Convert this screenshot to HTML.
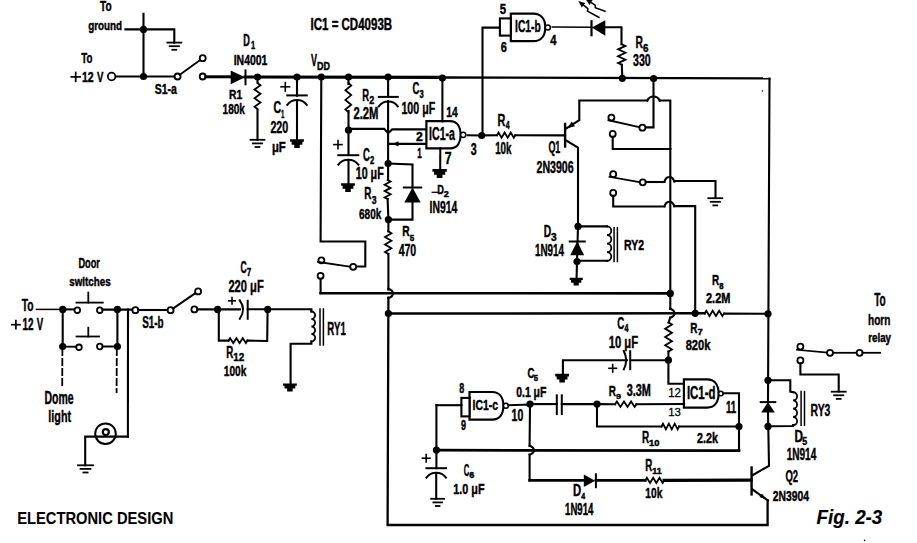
<!DOCTYPE html>
<html><head><meta charset="utf-8"><style>
html,body{margin:0;padding:0;background:#fff;}
svg{display:block;}
text{font-family:"Liberation Sans",sans-serif;fill:#000;stroke:#000;stroke-width:0.45px;}
</style></head><body>
<svg width="917" height="543" viewBox="0 0 917 543">
<g fill="none" stroke="#000" stroke-linecap="square" stroke-linejoin="miter">
<text x="99.99" y="10.6" font-size="14.24" textLength="11.58" lengthAdjust="spacingAndGlyphs" font-weight="bold" font-style="normal">To</text>
<text x="88.2" y="29.8" font-size="13.52" textLength="33.95" lengthAdjust="spacingAndGlyphs" font-weight="bold" font-style="normal">ground</text>
<path d="M143.5 13.8 L143.5 76.5" stroke-width="2.1"/>
<path d="M125.4 29.4 L174.3 29.4 L174.3 42.6" stroke-width="2.1"/>
<path d="M167.3 42.6 L181.3 42.6" stroke-width="1.8"/>
<path d="M169.68 46.2 L178.92 46.2" stroke-width="1.8"/>
<path d="M172.34 49.8 L176.26 49.8" stroke-width="1.8"/>
<circle cx="143.5" cy="29.4" r="3.6" fill="#000" stroke="none"/>
<text x="81.2" y="63.3" font-size="15.26" textLength="11.16" lengthAdjust="spacingAndGlyphs" font-weight="bold" font-style="normal">To</text>
<path d="M71.3 76.9 L80.1 76.9" stroke-width="1.7"/>
<path d="M75.7 72.5 L75.7 81.3" stroke-width="1.7"/>
<text x="81.94" y="82" font-size="15.04" textLength="11.68" lengthAdjust="spacingAndGlyphs" font-weight="bold" font-style="normal">12</text>
<text x="96.93" y="82" font-size="15.55" textLength="6.43" lengthAdjust="spacingAndGlyphs" font-weight="bold" font-style="normal">V</text>
<path d="M115.3 76.5 L174.6 76.5" stroke-width="2.1"/>
<circle cx="111.6" cy="76.5" r="3.8" fill="#fff" stroke-width="1.8"/>
<circle cx="143.5" cy="76.5" r="3.6" fill="#000" stroke="none"/>
<circle cx="177.6" cy="76.5" r="3" fill="#fff" stroke-width="1.8"/>
<path d="M179.8 74.8 L200.5 59.8" stroke-width="1.8"/>
<circle cx="202.7" cy="58.2" r="3" fill="#fff" stroke-width="1.8"/>
<circle cx="202.7" cy="76.5" r="3" fill="#fff" stroke-width="1.8"/>
<text x="154.7" y="93.5" font-size="15.04" textLength="22.24" lengthAdjust="spacingAndGlyphs" font-weight="bold" font-style="normal">S1-a</text>
<path d="M205.7 76.8 L231 76.8" stroke-width="3"/>
<polygon points="230.7,70.4 230.7,84.3 245,77.2" fill="#000" stroke="none"/>
<path d="M245.5 70.4 L245.5 84.3" stroke-width="2"/>
<path d="M245 77 L442 77.4" stroke-width="3.1"/>
<path d="M442 77.5 L769.5 78.3" stroke-width="2.3"/>
<text x="243.29" y="45.6" font-size="15.99" textLength="6.59" lengthAdjust="spacingAndGlyphs" font-weight="bold" font-style="normal">D</text>
<text x="250.93" y="49.3" font-size="10.61" textLength="4.18" lengthAdjust="spacingAndGlyphs" font-weight="bold" font-style="normal">1</text>
<text x="233.7" y="65" font-size="15.04" textLength="33.69" lengthAdjust="spacingAndGlyphs" font-weight="bold" font-style="normal">IN4001</text>
<circle cx="257.5" cy="77" r="3.6" fill="#000" stroke="none"/>
<path d="M257.5 77 L257.5 82" stroke-width="2.1"/>
<path d="M257.5 83 L260.5 85.17 L254.5 89.5 L260.5 93.83 L254.5 98.17 L260.5 102.5 L254.5 106.83 L257.5 109" stroke-width="1.8"/>
<path d="M257.5 110 L257.5 139.8" stroke-width="2.1"/>
<path d="M250.5 139.8 L264.5 139.8" stroke-width="1.8"/>
<path d="M252.88 143.4 L262.12 143.4" stroke-width="1.8"/>
<path d="M255.54 147 L259.46 147" stroke-width="1.8"/>
<text x="229.11" y="99.4" font-size="13.66" textLength="13.18" lengthAdjust="spacingAndGlyphs" font-weight="bold" font-style="normal">R1</text>
<text x="222.57" y="114.4" font-size="15.46" textLength="22.32" lengthAdjust="spacingAndGlyphs" font-weight="bold" font-style="normal">180k</text>
<circle cx="297" cy="77" r="3.6" fill="#000" stroke="none"/>
<path d="M297 77 L297 95.8" stroke-width="2.1"/>
<path d="M287.25 95.4 L306.75 95.4" stroke-width="2"/>
<path d="M287.25 104.8 C292.12 98.4 301.88 98.4 306.75 104.8" stroke-width="2" fill="none"/>
<path d="M297 101 L297 141" stroke-width="2.1"/>
<polygon points="290.1,139.2 303.9,139.2 303.9,141.81 302.38,141.81 302.38,144.77 299.76,144.77 299.76,147.9 294.24,147.9 294.24,144.77 291.62,144.77 291.62,141.81 290.1,141.81" fill="#000" stroke="none"/>
<path d="M281.05 86.8 L289.55 86.8" stroke-width="1.6"/>
<path d="M285.3 82.55 L285.3 91.05" stroke-width="1.6"/>
<text x="273.57" y="112.5" font-size="16.76" textLength="7.62" lengthAdjust="spacingAndGlyphs" font-weight="bold" font-style="normal">C</text>
<text x="281.12" y="117.5" font-size="11.48" textLength="3.35" lengthAdjust="spacingAndGlyphs" font-weight="bold" font-style="normal">1</text>
<text x="270.43" y="132.6" font-size="16.04" textLength="17.81" lengthAdjust="spacingAndGlyphs" font-weight="bold" font-style="normal">220</text>
<text x="271.91" y="151.5" font-size="13.81" textLength="13.81" lengthAdjust="spacingAndGlyphs" font-weight="bold" font-style="normal">&#956;F</text>
<circle cx="321.3" cy="77" r="3.6" fill="#000" stroke="none"/>
<text x="310.94" y="66.4" font-size="16.28" textLength="6.02" lengthAdjust="spacingAndGlyphs" font-weight="bold" font-style="normal">V</text>
<text x="317" y="70.2" font-size="10.9" textLength="12.87" lengthAdjust="spacingAndGlyphs" font-weight="bold" font-style="normal">DD</text>
<path d="M321.3 77 L320.6 241.5 L365.3 241.5 L365.3 266.5 L356.2 266.5" stroke-width="2.1"/>
<circle cx="348.5" cy="77" r="3.6" fill="#000" stroke="none"/>
<path d="M348.5 77 L348.5 84" stroke-width="2.1"/>
<path d="M348.3 83 L351.2 85.42 L345.4 90.25 L351.2 95.08 L345.4 99.92 L351.2 104.75 L345.4 109.58 L348.3 112" stroke-width="1.8"/>
<path d="M348.5 111 L348.5 155" stroke-width="2.1"/>
<circle cx="348.5" cy="130.2" r="3.6" fill="#000" stroke="none"/>
<path d="M338.3 155.2 L358.3 155.2" stroke-width="2"/>
<path d="M338.3 164.6 C343.3 158.2 353.3 158.2 358.3 164.6" stroke-width="2" fill="none"/>
<path d="M348.5 160 L348.5 184" stroke-width="2.1"/>
<polygon points="341.1,183.2 354.9,183.2 354.9,185.84 353.38,185.84 353.38,188.83 350.76,188.83 350.76,192 345.24,192 345.24,188.83 342.62,188.83 342.62,185.84 341.1,185.84" fill="#000" stroke="none"/>
<text x="362.27" y="101.3" font-size="17.15" textLength="6.83" lengthAdjust="spacingAndGlyphs" font-weight="bold" font-style="normal">R</text>
<text x="369.18" y="104.4" font-size="11.46" textLength="5.08" lengthAdjust="spacingAndGlyphs" font-weight="bold" font-style="normal">2</text>
<text x="353.41" y="118.9" font-size="17.04" textLength="25.04" lengthAdjust="spacingAndGlyphs" font-weight="bold" font-style="normal">2.2M</text>
<path d="M334 144.6 L342 144.6" stroke-width="1.6"/>
<path d="M338 140.6 L338 148.6" stroke-width="1.6"/>
<text x="362.91" y="161.3" font-size="17.62" textLength="6.85" lengthAdjust="spacingAndGlyphs" font-weight="bold" font-style="normal">C</text>
<text x="369.93" y="163.8" font-size="10.6" textLength="4.27" lengthAdjust="spacingAndGlyphs" font-weight="bold" font-style="normal">2</text>
<text x="355.73" y="178.8" font-size="15.9" textLength="27.97" lengthAdjust="spacingAndGlyphs" font-weight="bold" font-style="normal">10 &#956;F</text>
<circle cx="388.1" cy="77" r="3.6" fill="#000" stroke="none"/>
<path d="M388.1 77 L388.1 96" stroke-width="2.1"/>
<path d="M378.8 96.9 L397.8 96.9" stroke-width="2"/>
<path d="M378.8 106.3 C383.55 99.9 393.05 99.9 397.8 106.3" stroke-width="2" fill="none"/>
<path d="M388.1 101 L388.1 163.5" stroke-width="2.1"/>
<text x="412.41" y="94.4" font-size="16.9" textLength="6.85" lengthAdjust="spacingAndGlyphs" font-weight="bold" font-style="normal">C</text>
<text x="419.52" y="97.5" font-size="10.74" textLength="4.25" lengthAdjust="spacingAndGlyphs" font-weight="bold" font-style="normal">3</text>
<text x="401.43" y="114" font-size="16.18" textLength="33.76" lengthAdjust="spacingAndGlyphs" font-weight="bold" font-style="normal">100 &#956;F</text>
<path d="M348.5 128.9 L384.2 128.9 L388.1 133.2 L392.2 129.4 L425.9 129.4" stroke-width="2.1"/>
<path d="M388.1 143.9 L425.9 143.9" stroke-width="2.1"/>
<polygon points="392.5,143.9 398.5,141.2 398.5,146.6" fill="#000" stroke="none"/>
<text x="415.88" y="140.6" font-size="12.46" textLength="6.82" lengthAdjust="spacingAndGlyphs" font-weight="bold" font-style="normal">2</text>
<text x="417.29" y="158.2" font-size="14.54" textLength="4.54" lengthAdjust="spacingAndGlyphs" font-weight="bold" font-style="normal">1</text>
<path d="M426.4 121.2 L450 121.2 C457.95 121.2 460.6 128 460.6 134.8 C460.6 141.6 457.95 148.4 450 148.4 L426.4 148.4 Z" stroke-width="2.2" fill="#fff"/>
<circle cx="463.2" cy="134.8" r="2.6" fill="#fff" stroke-width="1.5"/>
<text x="429.09" y="140" font-size="18.62" textLength="25.94" lengthAdjust="spacingAndGlyphs" font-weight="bold" font-style="normal">IC1-a</text>
<path d="M442.4 78 L442.4 121.4" stroke-width="2.1"/>
<circle cx="442.4" cy="78" r="3.6" fill="#000" stroke="none"/>
<text x="446.25" y="117" font-size="14.68" textLength="11.4" lengthAdjust="spacingAndGlyphs" font-weight="bold" font-style="normal">14</text>
<path d="M440.3 148.4 L440.2 169.5" stroke-width="2.1"/>
<polygon points="432.4,169.1 446.8,169.1 446.8,171.8 445.22,171.8 445.22,174.86 442.48,174.86 442.48,178.1 436.72,178.1 436.72,174.86 433.98,174.86 433.98,171.8 432.4,171.8" fill="#000" stroke="none"/>
<text x="444.67" y="163.5" font-size="15.7" textLength="6.87" lengthAdjust="spacingAndGlyphs" font-weight="bold" font-style="normal">7</text>
<path d="M467.6 135.3 L481.7 135.5" stroke-width="2.1"/>
<circle cx="481.7" cy="135.5" r="3.6" fill="#000" stroke="none"/>
<text x="470.86" y="154.5" font-size="16.04" textLength="5.93" lengthAdjust="spacingAndGlyphs" font-weight="bold" font-style="normal">3</text>
<path d="M482.5 135.5 L482.5 27.6 L499.8 27.6" stroke-width="2.1"/>
<circle cx="388.1" cy="163.5" r="3.6" fill="#000" stroke="none"/>
<path d="M388.1 163.5 L412.5 164.5 L412.5 187.5" stroke-width="2.1"/>
<polygon points="412.5,187.5 404.3,202.6 420.7,202.6" fill="#000" stroke="none"/>
<path d="M403.8 187.5 L421.2 187.5" stroke-width="2"/>
<path d="M412.5 202.6 L412.5 219.6 L388.4 219.6" stroke-width="2.1"/>
<path d="M388.1 163.5 L388.1 179" stroke-width="2.1"/>
<path d="M387.6 180 L390.6 181.58 L384.6 184.75 L390.6 187.92 L384.6 191.08 L390.6 194.25 L384.6 197.42 L387.6 199" stroke-width="1.8"/>
<path d="M387.6 199 L388.4 219.6" stroke-width="2.1"/>
<circle cx="388.4" cy="219.6" r="3.6" fill="#000" stroke="none"/>
<text x="364.34" y="199.4" font-size="17.15" textLength="7.17" lengthAdjust="spacingAndGlyphs" font-weight="bold" font-style="normal">R</text>
<text x="371.8" y="203.8" font-size="11.6" textLength="4.81" lengthAdjust="spacingAndGlyphs" font-weight="bold" font-style="normal">3</text>
<text x="359.03" y="218.8" font-size="15.46" textLength="22.36" lengthAdjust="spacingAndGlyphs" font-weight="bold" font-style="normal">680k</text>
<path d="M432.2 192.3 L437.3 192.3" stroke-width="1.3"/>
<text x="437.18" y="193.8" font-size="12.65" textLength="6.71" lengthAdjust="spacingAndGlyphs" font-weight="bold" font-style="normal">D</text>
<text x="443.78" y="197" font-size="9.02" textLength="5.08" lengthAdjust="spacingAndGlyphs" font-weight="bold" font-style="normal">2</text>
<text x="429.6" y="213.2" font-size="16.9" textLength="27.75" lengthAdjust="spacingAndGlyphs" font-weight="bold" font-style="normal">IN914</text>
<path d="M388.4 219.6 L388.4 231.3" stroke-width="2.1"/>
<path d="M388.2 231.3 L391.4 233.18 L385 236.95 L391.4 240.72 L385 244.48 L391.4 248.25 L385 252.02 L388.2 253.9" stroke-width="1.8"/>
<path d="M388.4 253.9 L388.4 289.7" stroke-width="2.1"/>
<path d="M388.4 288.8 C394.38 290.64 394.38 296.16 388.4 298" stroke-width="2.1" fill="none"/>
<path d="M388.4 297.7 L387.6 525 L767.6 525 L767.6 500.4" stroke-width="2.3"/>
<circle cx="388.4" cy="313.5" r="3.6" fill="#000" stroke="none"/>
<text x="402.31" y="236.2" font-size="15.26" textLength="7.4" lengthAdjust="spacingAndGlyphs" font-weight="bold" font-style="normal">R</text>
<text x="409.65" y="240.6" font-size="9.88" textLength="4.47" lengthAdjust="spacingAndGlyphs" font-weight="bold" font-style="normal">5</text>
<text x="398.64" y="255.7" font-size="16.04" textLength="17.59" lengthAdjust="spacingAndGlyphs" font-weight="bold" font-style="normal">470</text>
<path d="M497 135.2 L498.52 132.6 L501.57 137.8 L504.62 132.6 L507.67 137.8 L510.72 132.6 L513.77 137.8 L515.3 135.2" stroke-width="1.8"/>
<path d="M481.7 135.4 L497 135.2" stroke-width="2.1"/>
<path d="M515.3 135.3 L565.1 135.4" stroke-width="2.1"/>
<text x="497.57" y="125.6" font-size="16.28" textLength="7.85" lengthAdjust="spacingAndGlyphs" font-weight="bold" font-style="normal">R</text>
<text x="505.8" y="129.4" font-size="10.76" textLength="3.84" lengthAdjust="spacingAndGlyphs" font-weight="bold" font-style="normal">4</text>
<text x="495.18" y="153.9" font-size="15.87" textLength="16.31" lengthAdjust="spacingAndGlyphs" font-weight="bold" font-style="normal">10k</text>
<path d="M565.1 123.9 L565.1 146.5" stroke-width="2.4"/>
<path d="M565.6 128.9 L579.3 120.1 L579.3 100.5 L647.3 100.5" stroke-width="2.1"/>
<path d="M647.3 100.5 C649.78 95.18 657.22 95.18 659.7 100.5" stroke-width="2.1" fill="none"/>
<path d="M659.7 100.5 L670.3 100.5 L670.3 308.7" stroke-width="2.1"/>
<path d="M670.3 308.7 C675.89 310.5 675.89 315.9 670.3 317.7" stroke-width="2.1" fill="none"/>
<path d="M670.3 317.7 L668.6 322.5" stroke-width="2.1"/>
<polygon points="567.2,128.2 571.8,121.6 575,126.2" fill="#000" stroke="none"/>
<path d="M565.6 140.2 L578 147.7 L578 226.4" stroke-width="2.1"/>
<text x="548.43" y="153.2" font-size="16.9" textLength="11.91" lengthAdjust="spacingAndGlyphs" font-weight="bold" font-style="normal">Q1</text>
<text x="536.53" y="172.5" font-size="17.04" textLength="37.15" lengthAdjust="spacingAndGlyphs" font-weight="bold" font-style="normal">2N3906</text>
<path d="M510.8 13.6 L533 13.6 C542.22 13.6 545.3 20.5 545.3 27.4 C545.3 34.3 542.22 41.2 533 41.2 L510.8 41.2 Z" stroke-width="2.2" fill="#fff"/>
<circle cx="547.8" cy="27.4" r="2.5" fill="#fff" stroke-width="1.5"/>
<rect x="499.9" y="18.4" width="10.9" height="17.2" fill="#fff" stroke-width="2.1"/>
<text x="515.11" y="32" font-size="16.42" textLength="25.61" lengthAdjust="spacingAndGlyphs" font-weight="bold" font-style="normal">IC1-b</text>
<text x="499.75" y="14.4" font-size="14.54" textLength="6.37" lengthAdjust="spacingAndGlyphs" font-weight="bold" font-style="normal">5</text>
<text x="500.7" y="52" font-size="15.18" textLength="6.1" lengthAdjust="spacingAndGlyphs" font-weight="bold" font-style="normal">6</text>
<text x="550.13" y="45.1" font-size="14.54" textLength="6.23" lengthAdjust="spacingAndGlyphs" font-weight="bold" font-style="normal">4</text>
<path d="M552.3 27 L591.5 27.2" stroke-width="1.6"/>
<path d="M591.5 21.3 L591.5 35.2" stroke-width="2.2"/>
<polygon points="591.8,27.6 605.3,20.2 605.3,35.8" fill="#000" stroke="none"/>
<path d="M605 27.2 L621.5 27.2 L621.5 44.2" stroke-width="2.1"/>
<path d="M621.8 44.2 L625.5 45.92 L618.1 49.35 L625.5 52.78 L618.1 56.22 L625.5 59.65 L618.1 63.08 L621.8 64.8" stroke-width="1.8"/>
<path d="M621.8 64.8 L622.3 78" stroke-width="2.1"/>
<circle cx="622.3" cy="78.3" r="3.6" fill="#000" stroke="none"/>
<text x="635.62" y="47.5" font-size="16.72" textLength="7.4" lengthAdjust="spacingAndGlyphs" font-weight="bold" font-style="normal">R</text>
<text x="642.94" y="51.5" font-size="10.74" textLength="5.41" lengthAdjust="spacingAndGlyphs" font-weight="bold" font-style="normal">6</text>
<text x="633.06" y="65.8" font-size="16.9" textLength="17.68" lengthAdjust="spacingAndGlyphs" font-weight="bold" font-style="normal">330</text>
<path d="M583.4 5.1 L587.9 8.6 L587.5 11.2 L598.9 17.4" stroke-width="1.5"/>
<polygon points="578.3,1 581.8,7.4 585.2,3" fill="#000" stroke="none"/>
<path d="M591 2.5 L595.2 5.1 L595.3 7.8 L605 11.3" stroke-width="1.5"/>
<polygon points="585.5,-1 589.5,5 592.6,0.1" fill="#000" stroke="none"/>
<circle cx="653.6" cy="78.5" r="3.6" fill="#000" stroke="none"/>
<path d="M653.5 78.5 L653.5 127.4 L645.3 127.4" stroke-width="2.1"/>
<circle cx="611.4" cy="117.6" r="3" fill="#fff" stroke-width="1.8"/>
<path d="M608.5 120.2 L639.5 127.2" stroke-width="1.8"/>
<circle cx="642.4" cy="127.7" r="3" fill="#fff" stroke-width="1.8"/>
<circle cx="612.7" cy="133.9" r="3" fill="#fff" stroke-width="1.8"/>
<path d="M612.7 136.9 L612.7 149 L670.4 149" stroke-width="2.1"/>
<circle cx="613.2" cy="174.2" r="3" fill="#fff" stroke-width="1.8"/>
<path d="M609.5 176.8 L640 182.2" stroke-width="1.8"/>
<circle cx="642.8" cy="182.3" r="3" fill="#fff" stroke-width="1.8"/>
<path d="M645.8 182 L664.4 182" stroke-width="2.1"/>
<path d="M664.4 181.6 C666.4 175.48 672.4 175.48 674.4 181.6" stroke-width="2.1" fill="none"/>
<path d="M674.4 181 L715.5 181 L715.5 198" stroke-width="2.1"/>
<path d="M708.3 198.2 L722.3 198.2" stroke-width="1.8"/>
<path d="M710.68 201.8 L719.92 201.8" stroke-width="1.8"/>
<path d="M713.34 205.4 L717.26 205.4" stroke-width="1.8"/>
<circle cx="613.2" cy="192.9" r="3" fill="#fff" stroke-width="1.8"/>
<path d="M613.2 195.9 L613.2 206.5 L664.4 206.5" stroke-width="2.1"/>
<path d="M664.4 206.3 C666.4 200.18 672.4 200.18 674.4 206.3" stroke-width="2.1" fill="none"/>
<path d="M674.4 206.1 L695.2 206.1 L695.2 313" stroke-width="2.1"/>
<circle cx="578" cy="226.4" r="3.6" fill="#000" stroke="none"/>
<path d="M578 226.4 L607 226.4" stroke-width="2.1"/>
<path d="M607 226.4 A4.3 4.3 0 0 1 607 235 A4.3 4.3 0 0 1 607 243.6 A4.3 4.3 0 0 1 607 252.2 A4.3 4.3 0 0 1 607 260.8" stroke-width="1.8" fill="none"/>
<path d="M607 260.8 L577 260.8" stroke-width="2.1"/>
<path d="M614.1 227.7 L614.1 261.5" stroke-width="1.5"/>
<path d="M617.4 227.7 L617.4 261.5" stroke-width="1.5"/>
<path d="M578 226.4 L577 261.5" stroke-width="2.1"/>
<polygon points="577.2,241.5 570.2,255.2 584.2,255.2" fill="#000" stroke="none"/>
<path d="M569.7 241.5 L584.7 241.5" stroke-width="2"/>
<circle cx="577" cy="261.5" r="3.6" fill="#000" stroke="none"/>
<path d="M577 261.5 L576.6 277.8" stroke-width="2.1"/>
<polygon points="569.65,277.7 582.75,277.7 582.75,280.04 581.31,280.04 581.31,282.69 578.82,282.69 578.82,285.5 573.58,285.5 573.58,282.69 571.09,282.69 571.09,280.04 569.65,280.04" fill="#000" stroke="none"/>
<text x="624.01" y="250.1" font-size="15.18" textLength="20" lengthAdjust="spacingAndGlyphs" font-weight="bold" font-style="normal">RY2</text>
<text x="543.71" y="236.9" font-size="17.3" textLength="7.42" lengthAdjust="spacingAndGlyphs" font-weight="bold" font-style="normal">D</text>
<text x="551.07" y="240.6" font-size="11.46" textLength="5.59" lengthAdjust="spacingAndGlyphs" font-weight="bold" font-style="normal">3</text>
<text x="534.98" y="255.7" font-size="16.9" textLength="28.97" lengthAdjust="spacingAndGlyphs" font-weight="bold" font-style="normal">1N914</text>
<circle cx="321.4" cy="260.3" r="3" fill="#fff" stroke-width="1.8"/>
<path d="M318 262 L350.5 266.8" stroke-width="1.8"/>
<circle cx="353.2" cy="266.8" r="3" fill="#fff" stroke-width="1.8"/>
<circle cx="320.6" cy="275.8" r="3" fill="#fff" stroke-width="1.8"/>
<path d="M320.6 278.8 L320.6 293.2" stroke-width="2.1"/>
<path d="M320.6 293.2 L670.3 293.4" stroke-width="2.6"/>
<circle cx="670.3" cy="293.4" r="3.6" fill="#000" stroke="none"/>
<path d="M388.4 313.6 L704.6 313.3" stroke-width="2.5"/>
<path d="M704.6 313.4 L706.22 310.8 L709.45 316 L712.68 310.8 L715.92 316 L719.15 310.8 L722.38 316 L724 313.4" stroke-width="1.8"/>
<path d="M724.6 313.6 L768 313.8" stroke-width="2.1"/>
<circle cx="695.2" cy="313.3" r="3.6" fill="#000" stroke="none"/>
<circle cx="768" cy="313.8" r="3.6" fill="#000" stroke="none"/>
<text x="712.04" y="285.1" font-size="15.55" textLength="7.17" lengthAdjust="spacingAndGlyphs" font-weight="bold" font-style="normal">R</text>
<text x="719.36" y="288.7" font-size="8.74" textLength="4.28" lengthAdjust="spacingAndGlyphs" font-weight="bold" font-style="normal">8</text>
<text x="706.02" y="303.3" font-size="14.46" textLength="24.42" lengthAdjust="spacingAndGlyphs" font-weight="bold" font-style="normal">2.2M</text>
<path d="M769.5 78.5 L768 402" stroke-width="2.1"/>
<path d="M768 412.5 L769 465.8 L752.5 475.2" stroke-width="2.1"/>
<polygon points="768,402.1 761.2,412.6 774.8,412.6" fill="#000" stroke="none"/>
<path d="M760.7 402.1 L775.3 402.1" stroke-width="2"/>
<circle cx="768" cy="380.3" r="3.6" fill="#000" stroke="none"/>
<circle cx="768" cy="426.4" r="3.6" fill="#000" stroke="none"/>
<path d="M668.6 322.5 L672 324.57 L665.2 328.71 L672 332.86 L665.2 337 L672 341.14 L665.2 345.29 L672 349.43 L668.6 351.5" stroke-width="1.8"/>
<path d="M668.4 351.5 L668.4 383.8 L683.9 383.8" stroke-width="2.1"/>
<circle cx="668.4" cy="360.2" r="3.6" fill="#000" stroke="none"/>
<text x="690.34" y="333.1" font-size="15.41" textLength="7.17" lengthAdjust="spacingAndGlyphs" font-weight="bold" font-style="normal">R</text>
<text x="697.5" y="335" font-size="9.01" textLength="5.21" lengthAdjust="spacingAndGlyphs" font-weight="bold" font-style="normal">7</text>
<text x="685.65" y="350.1" font-size="15.46" textLength="24.84" lengthAdjust="spacingAndGlyphs" font-weight="bold" font-style="normal">820k</text>
<path d="M668.4 360.2 L631.5 360.2" stroke-width="2.1"/>
<path d="M630.2 351.2 L630.2 369.2" stroke-width="2"/>
<path d="M623.8 351 Q628.5 360.2 623.8 369.4" stroke-width="2" fill="none"/>
<path d="M627 360.2 L562.9 360.2 L562.9 374.5" stroke-width="2.1"/>
<polygon points="555.2,373.8 569,373.8 569,376.44 567.48,376.44 567.48,379.43 564.86,379.43 564.86,382.6 559.34,382.6 559.34,379.43 556.72,379.43 556.72,376.44 555.2,376.44" fill="#000" stroke="none"/>
<path d="M608.95 368.3 L616.45 368.3" stroke-width="1.6"/>
<path d="M612.7 364.55 L612.7 372.05" stroke-width="1.6"/>
<text x="617.2" y="328.7" font-size="16.04" textLength="6.96" lengthAdjust="spacingAndGlyphs" font-weight="bold" font-style="normal">C</text>
<text x="624.39" y="331.9" font-size="10.03" textLength="3.95" lengthAdjust="spacingAndGlyphs" font-weight="bold" font-style="normal">4</text>
<text x="608.69" y="347.5" font-size="16.9" textLength="29.42" lengthAdjust="spacingAndGlyphs" font-weight="bold" font-style="normal">10 &#956;F</text>
<path d="M683.9 379.4 L707 379.4 C715.7 379.4 718.6 386.45 718.6 393.5 C718.6 400.55 715.7 407.6 707 407.6 L683.9 407.6 Z" stroke-width="2.2" fill="#fff"/>
<circle cx="720.9" cy="393.5" r="2.3" fill="#fff" stroke-width="1.5"/>
<text x="686.94" y="398.8" font-size="18.08" textLength="28.51" lengthAdjust="spacingAndGlyphs" font-weight="bold" font-style="normal">IC1-d</text>
<text x="668.13" y="397.3" font-size="13.32" textLength="12.75" lengthAdjust="spacingAndGlyphs" font-weight="normal" font-style="normal" style="stroke-width:0.3px">12</text>
<text x="668.13" y="415.6" font-size="11.74" textLength="12.67" lengthAdjust="spacingAndGlyphs" font-weight="normal" font-style="normal" style="stroke-width:0.3px">13</text>
<text x="726.02" y="412.6" font-size="16.28" textLength="10.24" lengthAdjust="spacingAndGlyphs" font-weight="bold" font-style="normal">11</text>
<path d="M723.4 393.3 L739 393.3 L739 450.6" stroke-width="2.1"/>
<path d="M739 450.6 L436.4 450.2" stroke-width="2.7"/>
<circle cx="739" cy="426.5" r="3.6" fill="#000" stroke="none"/>
<path d="M597 404.1 L615.1 404.2" stroke-width="2.1"/>
<path d="M615.1 404.2 L616.88 401.5 L620.42 406.9 L623.98 401.5 L627.52 406.9 L631.08 401.5 L634.62 406.9 L636.4 404.2" stroke-width="1.8"/>
<path d="M636.4 404.2 L684.1 404" stroke-width="2.1"/>
<circle cx="597" cy="404.1" r="3.6" fill="#000" stroke="none"/>
<text x="608.74" y="395.5" font-size="15.41" textLength="7.17" lengthAdjust="spacingAndGlyphs" font-weight="bold" font-style="normal">R</text>
<text x="615.99" y="398.6" font-size="8.02" textLength="5.05" lengthAdjust="spacingAndGlyphs" font-weight="bold" font-style="normal">9</text>
<text x="626.75" y="396.1" font-size="16.04" textLength="24.18" lengthAdjust="spacingAndGlyphs" font-weight="bold" font-style="normal">3.3M</text>
<path d="M597 404.1 L597 426.5 L661.5 426.5" stroke-width="2.1"/>
<path d="M661.5 426.5 L662.97 423.7 L665.9 429.3 L668.83 423.7 L671.77 429.3 L674.7 423.7 L677.63 429.3 L679.1 426.5" stroke-width="1.8"/>
<path d="M679.1 426.5 L739 426.5" stroke-width="2.1"/>
<text x="642.04" y="443.1" font-size="16.13" textLength="7.17" lengthAdjust="spacingAndGlyphs" font-weight="bold" font-style="normal">R</text>
<text x="649.01" y="445.7" font-size="8.88" textLength="10.37" lengthAdjust="spacingAndGlyphs" font-weight="bold" font-style="normal">10</text>
<text x="697.03" y="442.9" font-size="15.32" textLength="20.96" lengthAdjust="spacingAndGlyphs" font-weight="bold" font-style="normal">2.2k</text>
<path d="M530 404.1 L556.8 404.1" stroke-width="2.1"/>
<path d="M556.8 395.3 L556.8 414.1" stroke-width="2"/>
<path d="M561.8 395.3 L561.8 414.1" stroke-width="2"/>
<path d="M561.8 404.1 L597 404.1" stroke-width="2.1"/>
<circle cx="530" cy="404.1" r="3.6" fill="#000" stroke="none"/>
<text x="527.51" y="378.1" font-size="15.18" textLength="6.85" lengthAdjust="spacingAndGlyphs" font-weight="bold" font-style="normal">C</text>
<text x="533.87" y="381.2" font-size="9.88" textLength="4.25" lengthAdjust="spacingAndGlyphs" font-weight="bold" font-style="normal">5</text>
<text x="516.19" y="396.9" font-size="14.18" textLength="30.2" lengthAdjust="spacingAndGlyphs" font-weight="bold" font-style="normal">0.1 &#956;F</text>
<path d="M469.5 392 L492 392 C500.55 392 503.4 398.9 503.4 405.8 C503.4 412.7 500.55 419.6 492 419.6 L469.5 419.6 Z" stroke-width="2.2" fill="#fff"/>
<circle cx="505.9" cy="405.8" r="2.5" fill="#fff" stroke-width="1.5"/>
<rect x="461.4" y="397.9" width="8.1" height="18.5" fill="#fff" stroke-width="2.1"/>
<text x="472.6" y="409.5" font-size="15.18" textLength="25.5" lengthAdjust="spacingAndGlyphs" font-weight="bold" font-style="normal">IC1-c</text>
<text x="459.22" y="392.5" font-size="14.18" textLength="4.96" lengthAdjust="spacingAndGlyphs" font-weight="bold" font-style="normal">8</text>
<text x="461.09" y="430.1" font-size="14.18" textLength="5.05" lengthAdjust="spacingAndGlyphs" font-weight="bold" font-style="normal">9</text>
<text x="511.54" y="421.4" font-size="16.04" textLength="11.69" lengthAdjust="spacingAndGlyphs" font-weight="bold" font-style="normal">10</text>
<path d="M508.4 405.2 L530 404.5 L529.6 445.8" stroke-width="2.1"/>
<path d="M529.6 445.7 C535.32 447.5 535.32 452.9 529.6 454.7" stroke-width="2.1" fill="none"/>
<path d="M529.6 454.7 L529.6 480.4" stroke-width="2.1"/>
<path d="M529.6 480.4 L584 480.4" stroke-width="2.6"/>
<path d="M436.4 405.2 L461.4 405.2" stroke-width="2.1"/>
<path d="M436.4 405.3 L436.4 468.2" stroke-width="2.1"/>
<circle cx="436.4" cy="450.1" r="3.6" fill="#000" stroke="none"/>
<path d="M426.45 468.2 L445.95 468.2" stroke-width="2"/>
<path d="M426.45 477.6 C431.32 471.2 441.07 471.2 445.95 477.6" stroke-width="2" fill="none"/>
<path d="M436.2 473 L436.2 498.8" stroke-width="2.1"/>
<path d="M431.2 498.8 L444.2 498.8" stroke-width="1.8"/>
<path d="M433.41 502.4 L441.99 502.4" stroke-width="1.8"/>
<path d="M435.88 506 L439.52 506" stroke-width="1.8"/>
<path d="M422.45 458.2 L429.95 458.2" stroke-width="1.6"/>
<path d="M426.2 454.45 L426.2 461.95" stroke-width="1.6"/>
<text x="463.69" y="476.3" font-size="16.9" textLength="5.52" lengthAdjust="spacingAndGlyphs" font-weight="bold" font-style="normal">C</text>
<text x="469.27" y="478.2" font-size="8.88" textLength="5.06" lengthAdjust="spacingAndGlyphs" font-weight="bold" font-style="normal">6</text>
<text x="453.32" y="494" font-size="15.47" textLength="31.17" lengthAdjust="spacingAndGlyphs" font-weight="bold" font-style="normal">1.0 &#956;F</text>
<polygon points="583.8,474.5 583.8,487 595.1,480.7" fill="#000" stroke="none"/>
<path d="M595.9 474.3 L595.9 487.2" stroke-width="2"/>
<path d="M595.9 480.4 L645.3 480.4" stroke-width="2.6"/>
<path d="M645.3 480.4 L646.88 477.8 L650.02 483 L653.17 477.8 L656.33 483 L659.48 477.8 L662.62 483 L664.2 480.4" stroke-width="1.8"/>
<path d="M664.2 480.4 L751 480.1" stroke-width="3.4"/>
<text x="573.05" y="496.3" font-size="16.28" textLength="8.13" lengthAdjust="spacingAndGlyphs" font-weight="bold" font-style="normal">D</text>
<text x="581.19" y="498.8" font-size="8.87" textLength="3.95" lengthAdjust="spacingAndGlyphs" font-weight="bold" font-style="normal">4</text>
<text x="565.1" y="514.5" font-size="16.04" textLength="28.26" lengthAdjust="spacingAndGlyphs" font-weight="bold" font-style="normal">1N914</text>
<text x="645.35" y="470.6" font-size="16.28" textLength="7.05" lengthAdjust="spacingAndGlyphs" font-weight="bold" font-style="normal">R</text>
<text x="652.36" y="474.4" font-size="9.01" textLength="9.47" lengthAdjust="spacingAndGlyphs" font-weight="bold" font-style="normal">11</text>
<text x="645.36" y="498.2" font-size="14.63" textLength="16.93" lengthAdjust="spacingAndGlyphs" font-weight="bold" font-style="normal">10k</text>
<path d="M751.6 467.5 L751.6 494.4" stroke-width="2.4"/>
<path d="M752.5 489.4 L768 500.6" stroke-width="2.1"/>
<polygon points="767.2,500 759.5,497 761.9,493.6" fill="#000" stroke="none"/>
<text x="785.41" y="481.9" font-size="16.04" textLength="12.67" lengthAdjust="spacingAndGlyphs" font-weight="bold" font-style="normal">Q2</text>
<text x="772.84" y="500.7" font-size="15.04" textLength="36.21" lengthAdjust="spacingAndGlyphs" font-weight="bold" font-style="normal">2N3904</text>
<path d="M768 380.3 L790.3 380.3 L790.3 391.6 L793 392.2" stroke-width="2.1"/>
<path d="M793 392.2 A4.12 4.12 0 0 1 793 400.45 A4.12 4.12 0 0 1 793 408.7 A4.12 4.12 0 0 1 793 416.95 A4.12 4.12 0 0 1 793 425.2" stroke-width="1.8" fill="none"/>
<path d="M793 425.2 L793 426 L768 426.2" stroke-width="2.1"/>
<path d="M801.1 391.6 L801.1 425.2" stroke-width="1.5"/>
<path d="M804.5 391.6 L804.5 425.2" stroke-width="1.5"/>
<text x="810.52" y="416" font-size="17.33" textLength="19.85" lengthAdjust="spacingAndGlyphs" font-weight="bold" font-style="normal">RY3</text>
<text x="794.51" y="442" font-size="17.15" textLength="8.48" lengthAdjust="spacingAndGlyphs" font-weight="bold" font-style="normal">D</text>
<text x="802.23" y="445.2" font-size="11.19" textLength="4.92" lengthAdjust="spacingAndGlyphs" font-weight="bold" font-style="normal">5</text>
<text x="786.67" y="460" font-size="15.75" textLength="29.59" lengthAdjust="spacingAndGlyphs" font-weight="bold" font-style="normal">1N914</text>
<circle cx="800.4" cy="346.6" r="3" fill="#fff" stroke-width="1.8"/>
<path d="M797 349.8 L827 352.6" stroke-width="1.8"/>
<circle cx="830" cy="352.8" r="3" fill="#fff" stroke-width="1.8"/>
<path d="M833 352.8 L856.6 352.8" stroke-width="1.8"/>
<circle cx="859.6" cy="352.8" r="3" fill="#fff" stroke-width="1.8"/>
<path d="M862.6 352.8 L880.1 352.8" stroke-width="1.8"/>
<circle cx="800.4" cy="360.4" r="3" fill="#fff" stroke-width="1.8"/>
<path d="M800.4 363.4 L800.4 374.5 L838.7 374.5 L838.7 391.5" stroke-width="2.1"/>
<path d="M831.7 391.7 L845.7 391.7" stroke-width="1.8"/>
<path d="M834.08 395.3 L843.32 395.3" stroke-width="1.8"/>
<path d="M836.74 398.9 L840.66 398.9" stroke-width="1.8"/>
<text x="874.19" y="306.2" font-size="18.02" textLength="11.58" lengthAdjust="spacingAndGlyphs" font-weight="bold" font-style="normal">To</text>
<text x="868.1" y="325" font-size="15.32" textLength="22.32" lengthAdjust="spacingAndGlyphs" font-weight="bold" font-style="normal">horn</text>
<text x="868.15" y="342.4" font-size="12.01" textLength="22.9" lengthAdjust="spacingAndGlyphs" font-weight="bold" font-style="normal">relay</text>
<text x="78.38" y="268.1" font-size="15.41" textLength="21.45" lengthAdjust="spacingAndGlyphs" font-weight="bold" font-style="normal">Door</text>
<text x="69.25" y="286.4" font-size="12.97" textLength="41.55" lengthAdjust="spacingAndGlyphs" font-weight="bold" font-style="normal">switches</text>
<text x="21.79" y="311.4" font-size="17.15" textLength="11.79" lengthAdjust="spacingAndGlyphs" font-weight="bold" font-style="normal">To</text>
<path d="M11.9 324.7 L19.9 324.7" stroke-width="1.7"/>
<path d="M15.9 320.7 L15.9 328.7" stroke-width="1.7"/>
<text x="22.38" y="330.2" font-size="15.75" textLength="11.02" lengthAdjust="spacingAndGlyphs" font-weight="bold" font-style="normal">12</text>
<text x="36.63" y="330" font-size="15.99" textLength="6.43" lengthAdjust="spacingAndGlyphs" font-weight="bold" font-style="normal">V</text>
<path d="M36.4 309.4 L62.7 309.4" stroke-width="1.5"/>
<circle cx="62.7" cy="309.4" r="3.6" fill="#000" stroke="none"/>
<path d="M62.7 309.4 L74.3 309.4" stroke-width="2.1"/>
<circle cx="77.3" cy="310.2" r="2.8" fill="#fff" stroke-width="1.8"/>
<circle cx="99.8" cy="310.2" r="2.8" fill="#fff" stroke-width="1.8"/>
<path d="M76.5 302.6 L102.8 302.6" stroke-width="1.8"/>
<path d="M88.3 292.6 L88.3 302.6" stroke-width="1.8"/>
<path d="M102.6 309.6 L132.4 309.6" stroke-width="2.1"/>
<circle cx="117.4" cy="309.4" r="3.6" fill="#000" stroke="none"/>
<path d="M62.7 309.4 L62.7 346.5 L76 346.8" stroke-width="2.1"/>
<circle cx="62.7" cy="346.5" r="3.6" fill="#000" stroke="none"/>
<circle cx="79" cy="347.3" r="2.8" fill="#fff" stroke-width="1.8"/>
<circle cx="99.8" cy="346.5" r="2.8" fill="#fff" stroke-width="1.8"/>
<path d="M76.5 336.5 L99 336.5" stroke-width="1.8"/>
<path d="M88.3 327.7 L88.3 336.5" stroke-width="1.8"/>
<path d="M102.6 346.5 L117.4 346.5 L117.4 309.4" stroke-width="2.1"/>
<circle cx="117.4" cy="346.5" r="3.6" fill="#000" stroke="none"/>
<path d="M62.4 349 L62.2 388 M116.8 349 L116.6 392" stroke-width="1.8" stroke-dasharray="6 4"/>
<path d="M128 309.6 L127.9 436.6" stroke-width="2.1"/>
<circle cx="135.4" cy="310.2" r="3" fill="#fff" stroke-width="1.8"/>
<path d="M138.4 310 L167.6 310" stroke-width="2.1"/>
<circle cx="170.6" cy="310.2" r="3" fill="#fff" stroke-width="1.8"/>
<path d="M173 308.6 L195.6 293" stroke-width="2.1"/>
<circle cx="198.1" cy="291.4" r="3" fill="#fff" stroke-width="1.8"/>
<circle cx="194.4" cy="309.4" r="3" fill="#fff" stroke-width="1.8"/>
<path d="M197.4 309.4 L240 309.4" stroke-width="2.1"/>
<text x="142.22" y="327.7" font-size="15.59" textLength="21.39" lengthAdjust="spacingAndGlyphs" font-weight="bold" font-style="normal">S1-b</text>
<circle cx="217.6" cy="309.4" r="3.6" fill="#000" stroke="none"/>
<path d="M239.8 300.3 Q246.3 309.4 239.8 318.8" stroke-width="2" fill="none"/>
<path d="M247.7 300.8 L247.7 318.8" stroke-width="2"/>
<path d="M247.7 309.2 L311.4 309.2 L311.4 311.5" stroke-width="2.1"/>
<circle cx="267.7" cy="309.4" r="3.6" fill="#000" stroke="none"/>
<path d="M218.8 309.4 L218.8 340.6 L228.5 340.6" stroke-width="2.1"/>
<path d="M228.5 340.6 L230.08 338.2 L233.25 343 L236.42 338.2 L239.58 343 L242.75 338.2 L245.92 343 L247.5 340.6" stroke-width="1.8"/>
<path d="M247.5 340.6 L267.2 341 L267.6 309.4" stroke-width="2.1"/>
<path d="M228.75 300.8 L235.25 300.8" stroke-width="1.6"/>
<path d="M232 297.55 L232 304.05" stroke-width="1.6"/>
<text x="240.45" y="272.5" font-size="16.04" textLength="6.19" lengthAdjust="spacingAndGlyphs" font-weight="bold" font-style="normal">C</text>
<text x="246.65" y="276.2" font-size="10.76" textLength="4.5" lengthAdjust="spacingAndGlyphs" font-weight="bold" font-style="normal">7</text>
<text x="228.41" y="291.8" font-size="16.76" textLength="35.29" lengthAdjust="spacingAndGlyphs" font-weight="bold" font-style="normal">220 &#956;F</text>
<text x="226.35" y="358.2" font-size="17.3" textLength="7.05" lengthAdjust="spacingAndGlyphs" font-weight="bold" font-style="normal">R</text>
<text x="233.28" y="361.4" font-size="11.74" textLength="11.02" lengthAdjust="spacingAndGlyphs" font-weight="bold" font-style="normal">12</text>
<text x="223.86" y="376.3" font-size="14.49" textLength="22.53" lengthAdjust="spacingAndGlyphs" font-weight="bold" font-style="normal">100k</text>
<path d="M311.4 311.5 A3.75 3.75 0 0 1 311.4 319 A3.75 3.75 0 0 1 311.4 326.5 A3.75 3.75 0 0 1 311.4 334 A3.75 3.75 0 0 1 311.4 341.5" stroke-width="1.8" fill="none"/>
<path d="M311.4 341.5 L311.4 343.8 L290.6 343.8 L290.6 384" stroke-width="2.1"/>
<polygon points="283,383.4 296.8,383.4 296.8,385.8 295.28,385.8 295.28,388.52 292.66,388.52 292.66,391.4 287.14,391.4 287.14,388.52 284.52,388.52 284.52,385.8 283,385.8" fill="#000" stroke="none"/>
<path d="M320 309 L320 345" stroke-width="1.5"/>
<path d="M323.4 309 L323.4 345" stroke-width="1.5"/>
<text x="327.37" y="334.8" font-size="17.59" textLength="18.4" lengthAdjust="spacingAndGlyphs" font-weight="bold" font-style="normal">RY1</text>
<text x="44.4" y="403.5" font-size="17.73" textLength="29.16" lengthAdjust="spacingAndGlyphs" font-weight="bold" font-style="normal">Dome</text>
<text x="48.35" y="421.8" font-size="15.87" textLength="22.68" lengthAdjust="spacingAndGlyphs" font-weight="bold" font-style="normal">light</text>
<circle cx="105.5" cy="433.7" r="10.3" fill="#fff" stroke-width="2"/>
<path d="M85.2 465.3 L85.2 436.6 L127.9 436.6" stroke-width="2.1"/>
<circle cx="105.8" cy="432.1" r="3" fill="#fff" stroke-width="2.2"/>
<path d="M78 465.3 L93 465.3" stroke-width="1.8"/>
<path d="M80.55 468.9 L90.45 468.9" stroke-width="1.8"/>
<path d="M83.4 472.5 L87.6 472.5" stroke-width="1.8"/>
<text x="17.22" y="523.7" font-size="16.04" textLength="156.07" lengthAdjust="spacingAndGlyphs" font-weight="bold" font-style="normal" style="stroke-width:0.1px">ELECTRONIC DESIGN</text>
<text x="816.57" y="523.8" font-size="19.87" textLength="65.74" lengthAdjust="spacingAndGlyphs" font-weight="bold" font-style="italic" style="stroke-width:0.15px">Fig. 2-3</text>
<text x="310.53" y="30.1" font-size="16.18" textLength="81.59" lengthAdjust="spacingAndGlyphs" font-weight="bold" font-style="normal">IC1 = CD4093B</text>
<circle cx="762.5" cy="91" r="0.8" fill="#000" stroke="none"/>
<circle cx="864.6" cy="540.4" r="0.8" fill="#000" stroke="none"/>
</g>
</svg>
</body></html>
